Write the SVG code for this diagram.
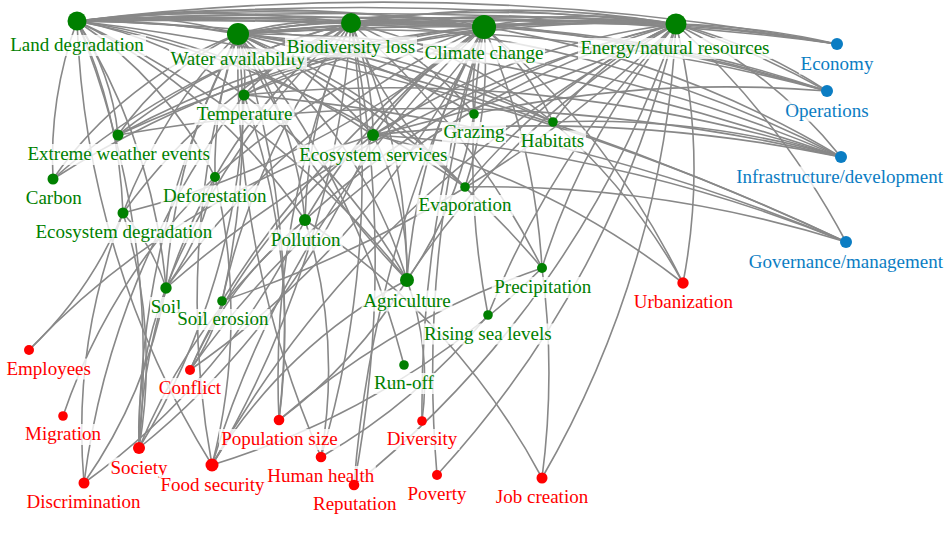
<svg xmlns="http://www.w3.org/2000/svg" width="950" height="534" viewBox="0 0 950 534">
<style>
.edges path{fill:none;stroke:#888;stroke-width:1.6}
.bg{fill:#fff;opacity:0.8}
.g circle{fill:#008000}.g text{fill:#008000}
.r circle{fill:#ff0000}.r text{fill:#ff0000}
.b circle{fill:#0b7dc3}.b text{fill:#0b7dc3}
</style>
<rect width="950" height="534" fill="#fff"/>
<g class="edges">
<path d="M77 21A400 400 0 0 1 238 34"/><path d="M77 21A800 800 0 0 1 238 34"/>
<path d="M77 21A1100 1100 0 0 1 351 23"/><path d="M77 21A2000 2000 0 0 1 351 23"/><path d="M77 21A4000 4000 0 0 1 351 23"/>
<path d="M77 21A1500 1500 0 0 1 484 27"/><path d="M77 21A2500 2500 0 0 1 484 27"/><path d="M77 21A4000 4000 0 0 1 484 27"/><path d="M77 21A8000 8000 0 0 1 484 27"/>
<path d="M77 21A3000 3000 0 0 1 676 24"/><path d="M77 21A5000 5000 0 0 1 676 24"/><path d="M77 21A9000 9000 0 0 1 676 24"/>
<path d="M238 34A300 300 0 0 1 351 23"/><path d="M238 34A600 600 0 0 1 351 23"/>
<path d="M238 34A800 800 0 0 1 484 27"/><path d="M238 34A1500 1500 0 0 1 484 27"/><path d="M238 34A3000 3000 0 0 1 484 27"/>
<path d="M238 34A1500 1500 0 0 1 676 24"/><path d="M238 34A3000 3000 0 0 1 676 24"/><path d="M238 34A6000 6000 0 0 1 676 24"/>
<path d="M351 23A300 300 0 0 1 484 27"/><path d="M351 23A600 600 0 0 1 484 27"/><path d="M351 23A1200 1200 0 0 1 484 27"/>
<path d="M351 23A1000 1000 0 0 1 676 24"/><path d="M351 23A2000 2000 0 0 1 676 24"/><path d="M351 23A4000 4000 0 0 1 676 24"/>
<path d="M484 27A500 500 0 0 1 676 24"/><path d="M484 27A1000 1000 0 0 1 676 24"/><path d="M484 27A2000 2000 0 0 1 676 24"/>
<path d="M77 21A2500 2500 0 0 1 837 44"/><path d="M238 34A2500 2500 0 0 1 837 44"/><path d="M351 23A2000 2000 0 0 1 837 44"/><path d="M484 27A1500 1500 0 0 1 837 44"/><path d="M676 24A800 800 0 0 1 837 44"/><path d="M676 24A1500 1500 0 0 1 837 44"/>
<path d="M77 21A2000 2000 0 0 1 827 91"/><path d="M238 34A1800 1800 0 0 1 827 91"/><path d="M351 23A1500 1500 0 0 1 827 91"/><path d="M484 27A1200 1200 0 0 1 827 91"/><path d="M676 24A500 500 0 0 1 827 91"/><path d="M676 24A900 900 0 0 1 827 91"/>
<path d="M77 21A2500 2500 0 0 1 841 157"/><path d="M238 34A1500 1500 0 0 1 841 157"/><path d="M351 23A1200 1200 0 0 1 841 157"/><path d="M484 27A1000 1000 0 0 1 841 157"/><path d="M676 24A500 500 0 0 1 841 157"/><path d="M244 95A1500 1500 0 0 1 841 157"/><path d="M118 135A1800 1800 0 0 1 841 157"/><path d="M373 135A1500 1500 0 0 1 841 157"/>
<path d="M77 21A2500 2500 0 0 1 846 242"/><path d="M238 34A3000 3000 0 0 1 846 242"/><path d="M244 95A2000 2000 0 0 1 846 242"/><path d="M373 135A1500 1500 0 0 1 846 242"/><path d="M676 24A800 800 0 0 1 846 242"/>
<path d="M238 34A150 150 0 0 1 244 95"/><path d="M77 21A400 400 0 0 1 244 95"/><path d="M351 23A300 300 0 0 0 244 95"/><path d="M484 27A600 600 0 0 0 244 95"/><path d="M676 24A900 900 0 0 0 244 95"/>
<path d="M77 21A250 250 0 0 1 118 135"/><path d="M238 34A300 300 0 0 0 118 135"/><path d="M351 23A600 600 0 0 0 118 135"/><path d="M484 27A900 900 0 0 0 118 135"/><path d="M676 24A1200 1200 0 0 0 118 135"/>
<path d="M77 21A400 400 0 0 0 53 179"/><path d="M238 34A400 400 0 0 0 53 179"/><path d="M351 23A700 700 0 0 0 53 179"/><path d="M484 27A1000 1000 0 0 0 53 179"/>
<path d="M77 21A400 400 0 0 1 215 177"/><path d="M238 34A400 400 0 0 0 215 177"/><path d="M351 23A500 500 0 0 0 215 177"/><path d="M484 27A700 700 0 0 0 215 177"/><path d="M215 177A300 300 0 0 1 166 288"/>
<path d="M77 21A500 500 0 0 1 123 213"/><path d="M238 34A500 500 0 0 0 123 213"/><path d="M351 23A600 600 0 0 0 123 213"/><path d="M484 27A900 900 0 0 1 123 213"/><path d="M123 213A200 200 0 0 1 166 288"/>
<path d="M77 21A700 700 0 0 1 373 135"/><path d="M238 34A400 400 0 0 1 373 135"/><path d="M351 23A300 300 0 0 1 373 135"/><path d="M484 27A400 400 0 0 0 373 135"/><path d="M484 27A250 250 0 0 1 373 135"/><path d="M676 24A700 700 0 0 0 373 135"/><path d="M676 24A1200 1200 0 0 1 373 135"/>
<path d="M351 23A300 300 0 0 1 474 114"/><path d="M484 27A200 200 0 0 0 474 114"/><path d="M238 34A600 600 0 0 1 474 114"/><path d="M474 114A400 400 0 0 1 407 280"/>
<path d="M77 21A1200 1200 0 0 1 553 122"/><path d="M238 34A800 800 0 0 1 553 122"/><path d="M351 23A500 500 0 0 1 553 122"/><path d="M484 27A300 300 0 0 1 553 122"/><path d="M676 24A300 300 0 0 0 553 122"/>
<path d="M77 21A1000 1000 0 0 1 465 187"/><path d="M238 34A600 600 0 0 1 465 187"/><path d="M351 23A400 400 0 0 0 465 187"/><path d="M484 27A400 400 0 0 1 465 187"/><path d="M676 24A600 600 0 0 0 465 187"/>
<path d="M77 21A600 600 0 0 1 305 220"/><path d="M238 34A400 400 0 0 1 305 220"/><path d="M351 23A500 500 0 0 0 305 220"/><path d="M484 27A600 600 0 0 0 305 220"/><path d="M676 24A800 800 0 0 0 305 220"/>
<path d="M77 21A600 600 0 0 1 166 288"/><path d="M238 34A600 600 0 0 0 166 288"/><path d="M351 23A700 700 0 0 0 166 288"/><path d="M484 27A800 800 0 0 0 166 288"/><path d="M676 24A1200 1200 0 0 0 166 288"/>
<path d="M238 34A800 800 0 0 1 222 301"/><path d="M351 23A700 700 0 0 0 222 301"/><path d="M484 27A900 900 0 0 0 222 301"/><path d="M676 24A1200 1200 0 0 1 222 301"/>
<path d="M77 21A900 900 0 0 1 407 280"/><path d="M238 34A500 500 0 0 1 407 280"/><path d="M238 34A900 900 0 0 0 407 280"/><path d="M351 23A600 600 0 0 1 407 280"/><path d="M484 27A600 600 0 0 0 407 280"/><path d="M676 24A800 800 0 0 0 407 280"/><path d="M373 135A300 300 0 0 1 407 280"/><path d="M244 95A600 600 0 0 1 407 280"/>
<path d="M484 27A700 700 0 0 1 542 268"/><path d="M676 24A700 700 0 0 0 542 268"/><path d="M351 23A800 800 0 0 1 542 268"/><path d="M238 34A900 900 0 0 1 542 268"/>
<path d="M484 27A800 800 0 0 0 488 315"/><path d="M676 24A900 900 0 0 0 488 315"/><path d="M488 315A600 600 0 0 1 321 457"/>
<path d="M238 34A900 900 0 0 1 404 365"/>
<path d="M676 24A600 600 0 0 1 683 283"/><path d="M484 27A800 800 0 0 1 683 283"/><path d="M373 135A800 800 0 0 1 683 283"/>
<path d="M123 213A400 400 0 0 1 29 350"/><path d="M373 135A800 800 0 0 0 29 350"/>
<path d="M215 177A600 600 0 0 0 63 416"/>
<path d="M222 301A200 200 0 0 1 190 370"/><path d="M305 220A400 400 0 0 0 190 370"/><path d="M373 135A600 600 0 0 0 190 370"/><path d="M484 27A900 900 0 0 1 190 370"/>
<path d="M77 21A900 900 0 0 1 139 448"/><path d="M166 288A400 400 0 0 0 139 448"/><path d="M215 177A600 600 0 0 0 139 448"/><path d="M244 95A700 700 0 0 1 139 448"/><path d="M238 34A900 900 0 0 0 139 448"/><path d="M305 220A600 600 0 0 0 139 448"/><path d="M373 135A800 800 0 0 1 139 448"/><path d="M123 213A500 500 0 0 1 139 448"/>
<path d="M123 213A600 600 0 0 0 84 483"/><path d="M166 288A500 500 0 0 1 84 483"/><path d="M244 95A800 800 0 0 0 84 483"/><path d="M305 220A700 700 0 0 1 84 483"/>
<path d="M77 21A900 900 0 0 0 212 465"/><path d="M215 177A600 600 0 0 1 212 465"/><path d="M238 34A900 900 0 0 0 212 465"/><path d="M351 23A1000 1000 0 0 1 212 465"/><path d="M407 280A500 500 0 0 0 212 465"/><path d="M542 268A800 800 0 0 1 212 465"/><path d="M484 27A1000 1000 0 0 0 212 465"/>
<path d="M407 280A500 500 0 0 1 279 420"/><path d="M542 268A800 800 0 0 0 279 420"/><path d="M238 34A900 900 0 0 1 279 420"/><path d="M351 23A900 900 0 0 0 279 420"/><path d="M244 95A700 700 0 0 1 279 420"/>
<path d="M238 34A1000 1000 0 0 0 321 457"/><path d="M351 23A1000 1000 0 0 1 321 457"/><path d="M305 220A500 500 0 0 1 321 457"/>
<path d="M351 23A1200 1200 0 0 1 354 485"/><path d="M484 27A1200 1200 0 0 0 354 485"/><path d="M676 24A1000 1000 0 0 1 354 485"/>
<path d="M484 27A1200 1200 0 0 0 422 421"/><path d="M407 280A300 300 0 0 1 422 421"/>
<path d="M484 27A1200 1200 0 0 0 437 475"/><path d="M676 24A1000 1000 0 0 1 437 475"/>
<path d="M305 220A700 700 0 0 1 542 478"/><path d="M542 268A800 800 0 0 1 542 478"/><path d="M676 24A1000 1000 0 0 1 542 478"/>
<path d="M553 122A900 900 0 0 1 841 157"/><path d="M465 187A1200 1200 0 0 1 846 242"/><path d="M474 114A1200 1200 0 0 1 827 91"/><path d="M676 24A900 900 0 0 0 190 370"/><path d="M676 24A1100 1100 0 0 0 212 465"/><path d="M553 122A600 600 0 0 1 683 283"/>
</g>
<g class="nodes" font-family="'Liberation Serif', 'Times New Roman', serif" font-size="19" text-anchor="middle">
<g id="land-degradation" class="g"><circle cx="77" cy="21" r="9.5"/><rect class="bg" x="8" y="35" width="138" height="21"/><text x="77" y="51">Land degradation</text></g>
<g id="water-availability" class="g"><circle cx="238" cy="34" r="11"/><rect class="bg" x="169" y="48.5" width="138" height="21"/><text x="238" y="64.5">Water availability</text></g>
<g id="biodiversity-loss" class="g"><circle cx="351" cy="23" r="10"/><rect class="bg" x="285" y="36.5" width="132" height="21"/><text x="351" y="52.5">Biodiversity loss</text></g>
<g id="climate-change" class="g"><circle cx="484" cy="27" r="12"/><rect class="bg" x="423" y="42.5" width="122" height="21"/><text x="484" y="58.5">Climate change</text></g>
<g id="energy" class="g"><circle cx="676" cy="24" r="10.5"/><rect class="bg" x="578" y="38" width="194" height="21"/><text x="675" y="54">Energy/natural resources</text></g>
<g id="temperature" class="g"><circle cx="244" cy="95" r="5.5"/><rect class="bg" x="194.5" y="104" width="100" height="21"/><text x="244.5" y="120">Temperature</text></g>
<g id="extreme-weather" class="g"><circle cx="118" cy="135" r="5.5"/><rect class="bg" x="24.7" y="144" width="188" height="21"/><text x="118.7" y="160">Extreme weather events</text></g>
<g id="carbon" class="g"><circle cx="53" cy="179" r="5.5"/><rect class="bg" x="23.7" y="188" width="60" height="21"/><text x="53.7" y="204">Carbon</text></g>
<g id="deforestation" class="g"><circle cx="215" cy="177" r="5"/><rect class="bg" x="160.7" y="185.5" width="108" height="21"/><text x="214.7" y="201.5">Deforestation</text></g>
<g id="ecosystem-degradation" class="g"><circle cx="123" cy="213" r="5.5"/><rect class="bg" x="32.8" y="222" width="182" height="21"/><text x="123.8" y="238">Ecosystem degradation</text></g>
<g id="ecosystem-services" class="g"><circle cx="373" cy="135" r="6"/><rect class="bg" x="296.8" y="144.5" width="153" height="21"/><text x="373.3" y="160.5">Ecosystem services</text></g>
<g id="grazing" class="g"><circle cx="474" cy="114" r="4.8"/><rect class="bg" x="442" y="122" width="64" height="21"/><text x="474" y="138">Grazing</text></g>
<g id="habitats" class="g"><circle cx="553" cy="122" r="4.8"/><rect class="bg" x="519" y="130.5" width="67" height="21"/><text x="552.5" y="146.5">Habitats</text></g>
<g id="evaporation" class="g"><circle cx="465" cy="187" r="4.8"/><rect class="bg" x="416.5" y="195" width="97" height="21"/><text x="465" y="211">Evaporation</text></g>
<g id="pollution" class="g"><circle cx="305" cy="220" r="6"/><rect class="bg" x="268.7" y="229.5" width="74" height="21"/><text x="305.7" y="245.5">Pollution</text></g>
<g id="soil" class="g"><circle cx="166" cy="288" r="5.7"/><rect class="bg" x="150" y="297" width="32" height="21"/><text x="166" y="313">Soil</text></g>
<g id="soil-erosion" class="g"><circle cx="222" cy="301" r="4.8"/><rect class="bg" x="175.3" y="309" width="95" height="21"/><text x="222.8" y="325">Soil erosion</text></g>
<g id="agriculture" class="g"><circle cx="407" cy="280" r="7"/><rect class="bg" x="361.5" y="290.5" width="91" height="21"/><text x="407" y="306.5">Agriculture</text></g>
<g id="precipitation" class="g"><circle cx="542" cy="268" r="5"/><rect class="bg" x="491.8" y="277" width="102" height="21"/><text x="542.8" y="293">Precipitation</text></g>
<g id="rising-sea-levels" class="g"><circle cx="488" cy="315" r="4.8"/><rect class="bg" x="421.8" y="323.5" width="132" height="21"/><text x="487.8" y="339.5">Rising sea levels</text></g>
<g id="run-off" class="g"><circle cx="404" cy="365" r="4.8"/><rect class="bg" x="371" y="373" width="66" height="21"/><text x="404" y="389">Run-off</text></g>
<g id="economy" class="b"><circle cx="837" cy="44" r="6"/><rect class="bg" x="799" y="53.5" width="76" height="21"/><text x="837" y="69.5">Economy</text></g>
<g id="operations" class="b"><circle cx="827" cy="91" r="6"/><rect class="bg" x="784" y="100.5" width="86" height="21"/><text x="827" y="116.5">Operations</text></g>
<g id="infrastructure" class="b"><circle cx="841" cy="157" r="6"/><rect class="bg" x="732" y="166.5" width="213" height="21"/><text x="943" y="182.5" text-anchor="end">Infrastructure/development</text></g>
<g id="governance" class="b"><circle cx="846" cy="242" r="6"/><rect class="bg" x="746" y="251.5" width="199" height="21"/><text x="943" y="267.5" text-anchor="end">Governance/management</text></g>
<g id="urbanization" class="r"><circle cx="683" cy="283" r="5.7"/><rect class="bg" x="631.3" y="292" width="104" height="21"/><text x="683.3" y="308">Urbanization</text></g>
<g id="employees" class="r"><circle cx="29" cy="350" r="5"/><rect class="bg" x="4.7" y="358.5" width="88" height="21"/><text x="48.7" y="374.5">Employees</text></g>
<g id="migration" class="r"><circle cx="63" cy="416" r="4.8"/><rect class="bg" x="23" y="424" width="80" height="21"/><text x="63" y="440">Migration</text></g>
<g id="conflict" class="r"><circle cx="190" cy="370" r="5"/><rect class="bg" x="157" y="378" width="66" height="21"/><text x="190" y="394">Conflict</text></g>
<g id="society" class="r"><circle cx="139" cy="448" r="6"/><rect class="bg" x="108.5" y="457.5" width="61" height="21"/><text x="139" y="473.5">Society</text></g>
<g id="discrimination" class="r"><circle cx="84" cy="483" r="5.5"/><rect class="bg" x="24.5" y="491.5" width="118" height="21"/><text x="83.5" y="507.5">Discrimination</text></g>
<g id="food-security" class="r"><circle cx="212" cy="465" r="6.5"/><rect class="bg" x="158.5" y="475" width="108" height="21"/><text x="212.5" y="491">Food security</text></g>
<g id="population-size" class="r"><circle cx="279" cy="420" r="5.3"/><rect class="bg" x="219" y="429" width="121" height="21"/><text x="279.5" y="445">Population size</text></g>
<g id="human-health" class="r"><circle cx="321" cy="457" r="5.3"/><rect class="bg" x="265.8" y="466" width="110" height="21"/><text x="320.8" y="482">Human health</text></g>
<g id="reputation" class="r"><circle cx="354" cy="485" r="5.3"/><rect class="bg" x="310.7" y="494" width="88" height="21"/><text x="354.7" y="510">Reputation</text></g>
<g id="diversity" class="r"><circle cx="422" cy="421" r="4.8"/><rect class="bg" x="384.5" y="429" width="75" height="21"/><text x="422" y="445">Diversity</text></g>
<g id="poverty" class="r"><circle cx="437" cy="475" r="5"/><rect class="bg" x="405.5" y="483.5" width="63" height="21"/><text x="437" y="499.5">Poverty</text></g>
<g id="job-creation" class="r"><circle cx="542" cy="478" r="5.5"/><rect class="bg" x="493.5" y="487" width="97" height="21"/><text x="542" y="503">Job creation</text></g>
</g>
</svg>
